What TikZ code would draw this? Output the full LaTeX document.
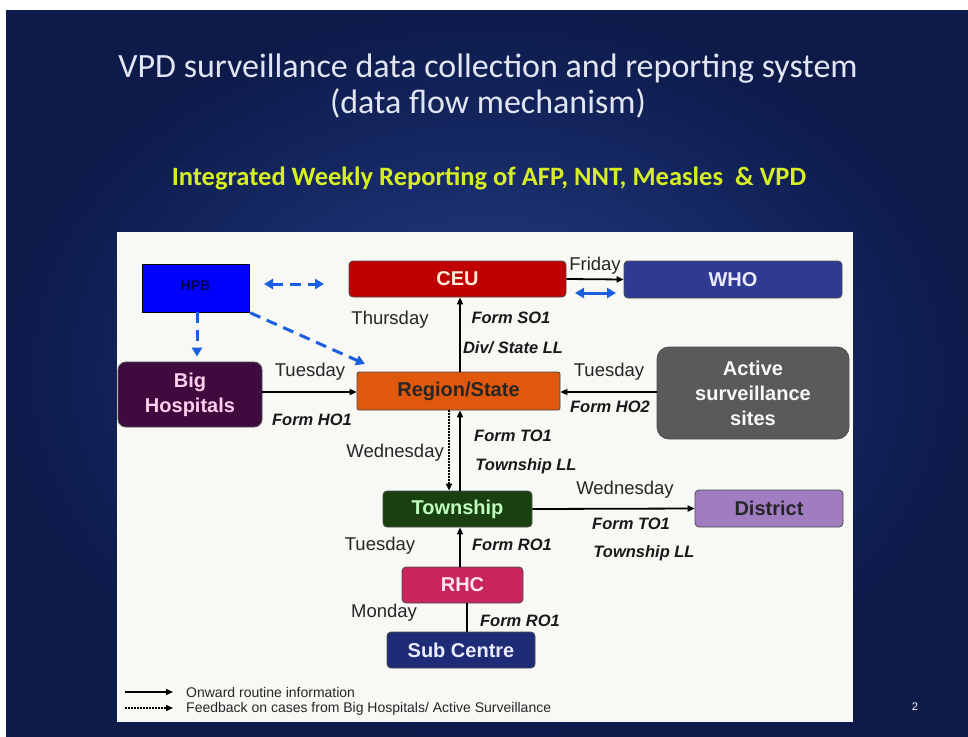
\documentclass[tikz,border=0pt]{standalone}
\usepackage{fontspec}
\setmainfont{Liberation Sans}
\newfontfamily\calibri{Carlito}
\usetikzlibrary{arrows.meta,calc}
\definecolor{bgin}{HTML}{24408C}
\definecolor{bgout}{HTML}{0D1A4A}
\definecolor{panel}{HTML}{F8F8F5}
\definecolor{ceuc}{HTML}{C00000}
\definecolor{whoc}{HTML}{2F3B93}
\definecolor{hpbc}{HTML}{0000FF}
\definecolor{bigc}{HTML}{3F0B3F}
\definecolor{regc}{HTML}{E0580C}
\definecolor{actc}{HTML}{5A5A5A}
\definecolor{twnc}{HTML}{1A4010}
\definecolor{disc}{HTML}{A07CC0}
\definecolor{rhcc}{HTML}{C8245E}
\definecolor{subc}{HTML}{1E2C78}
\definecolor{dashblue}{HTML}{1A5FE0}
\definecolor{titlec}{HTML}{E2E6F2}
\definecolor{subtc}{HTML}{D6EE22}
\begin{document}
\begin{tikzpicture}[x=1pt,y=-1pt,
  box/.style={draw=black!70, line width=0.8pt, rounded corners=4pt, inner sep=0pt, align=center,
    font=\bfseries\fontsize{20}{22}\selectfont},
  day/.style={font=\fontsize{18.5}{20}\selectfont, text=black!85, inner sep=0pt},
  form/.style={font=\bfseries\itshape\fontsize{16.5}{18}\selectfont, text=black!90, inner sep=0pt},
  arr/.style={line width=1.8pt, -{Triangle[length=7pt,width=6pt]}},
  dotarr/.style={line width=1.6pt, dash pattern=on 1.5pt off 1.5pt, -{Triangle[length=7pt,width=6pt]}},
  plain/.style={line width=1.8pt},
  bluedash/.style={draw=dashblue, line width=3pt, dash pattern=on 11pt off 7pt,
    -{Triangle[length=9pt,width=10pt]}},
  bluedbl/.style={draw=dashblue, line width=3pt, dash pattern=on 11pt off 7pt,
    {Triangle[length=9pt,width=10pt]}-{Triangle[length=9pt,width=10pt]}},
  legtext/.style={font=\fontsize{14}{16}\selectfont, anchor=west, inner sep=0pt, text=black!85}
]
\useasboundingbox (0,0) rectangle (968,736);
\fill[white] (0,0) rectangle (968,736);
\shade[inner color=bgin, outer color=bgout] (6,10) rectangle (968,736);

% titles
\node[text=titlec, font=\calibri\fontsize{34}{36}\selectfont, align=center] (title) at (488,86)
  {VPD surveillance data collection and reporting system\\(data flow mechanism)};
\node[text=subtc, font=\calibri\bfseries\fontsize{26.5}{28}\selectfont] (subtitle) at (489,178)
  {Integrated Weekly Reporting of AFP, NNT, Measles\ \ \& VPD};

% panel
\fill[panel] (117,232) rectangle (853,722);

% nodes
\node[box, rounded corners=0pt, draw=black, fill=hpbc, text=blue!30!black, minimum width=107pt, minimum height=48pt,
  font=\bfseries\fontsize{14}{15}\selectfont] (hpb) at (195.5,288) {\raisebox{4pt}{HPB}};
\node[box, fill=ceuc, text=orange!15, minimum width=217pt, minimum height=36pt] (ceu) at (457.5,279) {CEU};
\node[box, fill=whoc, text=white!92!blue, minimum width=218pt, minimum height=37pt] (who) at (733,279.5) {WHO};
\node[box, rounded corners=8pt, fill=bigc, text=pink!70!magenta!40, minimum width=144pt, minimum height=65pt,
  font=\bfseries\fontsize{20}{25}\selectfont] (bigh) at (190,394.5) {Big\\Hospitals};
\node[box, rounded corners=2pt, fill=regc, text=black!85, minimum width=203pt, minimum height=38pt] (region) at (458.5,391) {Region/State};
\node[box, rounded corners=12pt, fill=actc, text=white!95!gray, minimum width=192pt, minimum height=92pt,
  font=\bfseries\fontsize{20}{25}\selectfont] (active) at (753,393) {Active\\surveillance\\sites};
\node[box, fill=twnc, text=green!25!white, minimum width=149pt, minimum height=36pt] (township) at (457.5,509) {Township};
\node[box, fill=disc, text=black!85, minimum width=148pt, minimum height=37pt] (district) at (769,508.5) {District};
\node[box, fill=rhcc, text=pink!40, minimum width=121pt, minimum height=36pt] (rhc) at (462.5,585) {RHC};
\node[box, fill=subc, text=blue!8, minimum width=148pt, minimum height=36pt] (sub) at (461,650) {Sub Centre};

% helper coordinates
\coordinate (vx) at (460,0);
\coordinate (dx) at (449,0);
\coordinate (sx) at (467,0);
\coordinate (hy) at (0,392);
\coordinate (hx) at (197,0);

% black connectors
\draw[arr] (region.north -| vx) -- (ceu.south -| vx);
\draw[arr] (township.north -| vx) -- (region.south -| vx);
\draw[dotarr] (region.south -| dx) -- (township.north -| dx);
\draw[arr] (rhc.north -| vx) -- (township.south -| vx);
\draw[plain] (sub.north -| sx) -- (rhc.south -| sx);
\draw[arr] (bigh.east |- hy) -- (region.west |- hy);
\draw[arr] (active.west |- hy) -- (region.east |- hy);
\draw[arr] (ceu.east) -- (who.west);
\draw[arr] (township.east) -- (district.west);

% blue dashed connectors
\coordinate (bd1) at (575,293);
\coordinate (bd2) at (616,293);
\draw[bluedbl, dash pattern=on 40pt off 0pt] (bd1) -- (bd2);
\coordinate (hd1) at (264,284);
\coordinate (hd2) at (324,284);
\draw[bluedbl] (hd1) -- (hd2);
\draw[bluedash, shorten >=5pt] (hpb.south -| hx) -- (bigh.north -| hx);
\coordinate (dgend) at (365,364);
\draw[bluedash, shorten <=1pt] (hpb.south east) -- (dgend);

% labels
\node[day] (lfri) at (595,266) {Friday};
\node[day] (lthu) at (390,320) {Thursday};
\node[form] (lso1) at (511,318) {Form SO1};
\node[form] (ldiv) at (513,348) {Div/ State LL};
\node[day] (ltue1) at (310,372) {Tuesday};
\node[form] (lho1) at (312,420) {Form HO1};
\node[day] (ltue2) at (609,372) {Tuesday};
\node[form] (lho2) at (610,407) {Form HO2};
\node[day, anchor=east] (lwed1) at (444,453) {Wednesday};
\node[form] (lto1) at (513,436) {Form TO1};
\node[form] (ltll1) at (526,466) {Township LL};
\node[day] (lwed2) at (625,490) {Wednesday};
\node[form] (lto2) at (631,524) {Form TO1};
\node[form] (ltll2) at (644,553) {Township LL};
\node[day] (ltue3) at (380,546) {Tuesday};
\node[form] (lro1) at (512,545) {Form RO1};
\node[day] (lmon) at (384,613) {Monday};
\node[form] (lro2) at (520,621) {Form RO1};

% legend
\coordinate (la1) at (125,692);
\coordinate (la2) at (173,692);
\draw[arr, line width=1.6pt] (la1) -- (la2);
\node[legtext] (lt1) at (186,692) {Onward routine information};
\coordinate (lb1) at (125,708);
\coordinate (lb2) at (173,708);
\draw[dotarr] (lb1) -- (lb2);
\node[legtext] (lt2) at (186,709) {Feedback on cases from Big Hospitals/ Active Surveillance};

\node[text=white, font=\fontsize{11}{12}\selectfont] (pg) at (915,707) {2};
\end{tikzpicture}
\end{document}
